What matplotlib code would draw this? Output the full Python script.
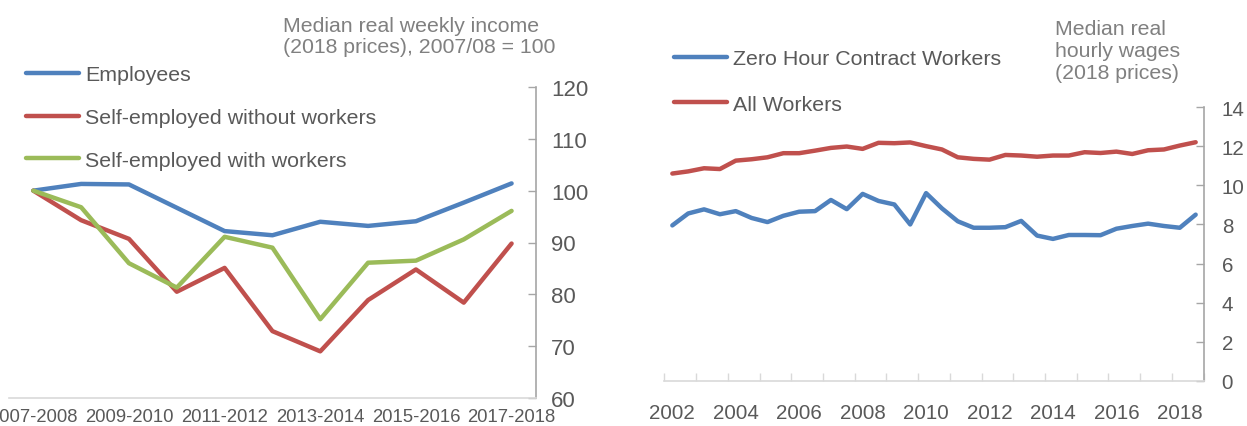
import matplotlib
matplotlib.use("Agg")
import matplotlib.pyplot as plt
import numpy as np

plt.rcParams['font.family'] = ['Liberation Sans', 'DejaVu Sans']

# ---- Left chart data ----
periods = ["2007-2008", "2008-2009", "2009-2010", "2010-2011", "2011-2012", "2012-2013",
           "2013-2014", "2014-2015", "2015-2016", "2016-2017", "2017-2018"]
employees = [100, 101.3, 101.2, 96.7, 92.2, 91.4, 94.0, 93.2, 94.1, 97.7, 101.4]
self_no_workers = [100, 94.3, 90.7, 80.5, 85.1, 72.9, 69.0, 78.9, 84.8, 78.4, 89.8]
self_with_workers = [100, 96.8, 86.0, 81.3, 91.1, 89.0, 75.2, 86.1, 86.5, 90.6, 96.1]
left_yticks = [60, 70, 80, 90, 100, 110, 120]

# ---- Right chart data (half-yearly, 2002 H1 .. 2018 H2) ----
zero_hour = [7.95, 8.56, 8.77, 8.52, 8.68, 8.33, 8.12, 8.44, 8.65, 8.68, 9.25, 8.78,
             9.56, 9.20, 9.02, 8.00, 9.60, 8.82, 8.16, 7.83, 7.83, 7.86, 8.18, 7.43,
             7.26, 7.46, 7.46, 7.45, 7.78, 7.92, 8.04, 7.92, 7.83, 8.50]
all_workers = [10.60, 10.71, 10.87, 10.83, 11.26, 11.33, 11.43, 11.64, 11.64, 11.77,
               11.91, 11.98, 11.86, 12.17, 12.15, 12.19, 12.00, 11.83, 11.43, 11.35,
               11.31, 11.55, 11.52, 11.46, 11.52, 11.52, 11.69, 11.65, 11.72, 11.60,
               11.79, 11.83, 12.03, 12.20]
year_labels = [str(y) for y in range(2002, 2019, 2)]
right_yticks = [0, 2, 4, 6, 8, 10, 12, 14]

BLUE = "#4F81BD"
RED = "#C0504D"
GREEN = "#9BBB59"
TXT = "#595959"
TITLE = "#808080"
LW = 3.2

W, H = 1247, 427
fig = plt.figure(figsize=(W / 100, H / 100), dpi=100)

def fx(px):
    return px / W

def fy(py):
    return 1 - py / H

# ---------------- Left axes ----------------
axL = fig.add_axes([fx(9.4), fy(399), fx(535.5) - fx(9.4), fy(88) - fy(399)])
xl = np.arange(len(periods))
l1, = axL.plot(xl, employees, color=BLUE, lw=LW, label="Employees", solid_capstyle='round')
l2, = axL.plot(xl, self_no_workers, color=RED, lw=LW, label="Self-employed without workers",
               solid_capstyle='round')
l3, = axL.plot(xl, self_with_workers, color=GREEN, lw=LW, label="Self-employed with workers",
               solid_capstyle='round')
axL.set_xlim(-0.5, len(periods) - 0.5)
axL.set_ylim(60, 120)
axL.set_yticks(left_yticks)
axL.yaxis.tick_right()
axL.tick_params(axis='y', direction='in', length=6, width=1, color="#A6A6A6",
                labelsize=16, labelcolor=TXT, pad=11)
axL.set_xticks(xl[::2])
axL.set_xticklabels(periods[::2])
axL.tick_params(axis='x', length=0, labelsize=13.3, labelcolor=TXT, pad=7.5)
for s in ['top', 'left']:
    axL.spines[s].set_visible(False)
axL.spines['bottom'].set_color("#D9D9D9")
axL.spines['bottom'].set_linewidth(1.2)
axL.spines['right'].set_color("#A6A6A6")
axL.spines['right'].set_linewidth(1.2)
for lab in axL.get_xticklabels():
    lab.set_clip_on(False)

fig.text(fx(283), fy(37), "Median real weekly income\n(2018 prices), 2007/08 = 100",
         ha='left', va='center', fontsize=15.3, color=TITLE, linespacing=1.18)

legL = fig.legend(handles=[l1, l2, l3], loc='upper left',
                  bbox_to_anchor=(fx(26), fy(66.5)), frameon=False, fontsize=15.4,
                  handlelength=2.5, handletextpad=0.28, labelspacing=1.11,
                  borderpad=0, borderaxespad=0, labelcolor=TXT)

# ---------------- Right axes ----------------
axR = fig.add_axes([fx(664.4), fy(382), fx(1203.6) - fx(664.4), fy(108) - fy(382)])
xr = np.arange(len(zero_hour))
r1, = axR.plot(xr, zero_hour, color=BLUE, lw=LW, label="Zero Hour Contract Workers",
               solid_capstyle='round')
r2, = axR.plot(xr, all_workers, color=RED, lw=LW, label="All Workers", solid_capstyle='round')
axR.set_xlim(-0.5, len(zero_hour) - 0.5)
axR.set_ylim(0, 14)
axR.set_yticks(right_yticks)
axR.yaxis.tick_right()
axR.tick_params(axis='y', direction='in', length=6, width=1, color="#A6A6A6",
                labelsize=14.8, labelcolor=TXT, pad=13)
axR.set_xticks(np.arange(0, len(zero_hour), 4))
axR.set_xticklabels(year_labels)
axR.set_xticks(np.arange(-0.5, len(zero_hour), 2), minor=True)
axR.tick_params(axis='x', which='major', length=0, labelsize=14.8, labelcolor=TXT, pad=16)
axR.tick_params(axis='x', which='minor', direction='in', length=6, width=1, color="#D9D9D9")
for s in ['top', 'left']:
    axR.spines[s].set_visible(False)
axR.spines['bottom'].set_color("#D9D9D9")
axR.spines['bottom'].set_linewidth(1.2)
axR.spines['right'].set_color("#A6A6A6")
axR.spines['right'].set_linewidth(1.2)

fig.text(fx(1055), fy(51.5), "Median real\nhourly wages\n(2018 prices)",
         ha='left', va='center', fontsize=15.3, color=TITLE, linespacing=1.22)

legR = fig.legend(handles=[r1, r2], loc='upper left',
                  bbox_to_anchor=(fx(674), fy(50)), frameon=False, fontsize=15.4,
                  handlelength=2.5, handletextpad=0.28, labelspacing=1.26,
                  borderpad=0, borderaxespad=0, labelcolor=TXT)

fig.savefig("out.png", dpi=100, facecolor="white")
